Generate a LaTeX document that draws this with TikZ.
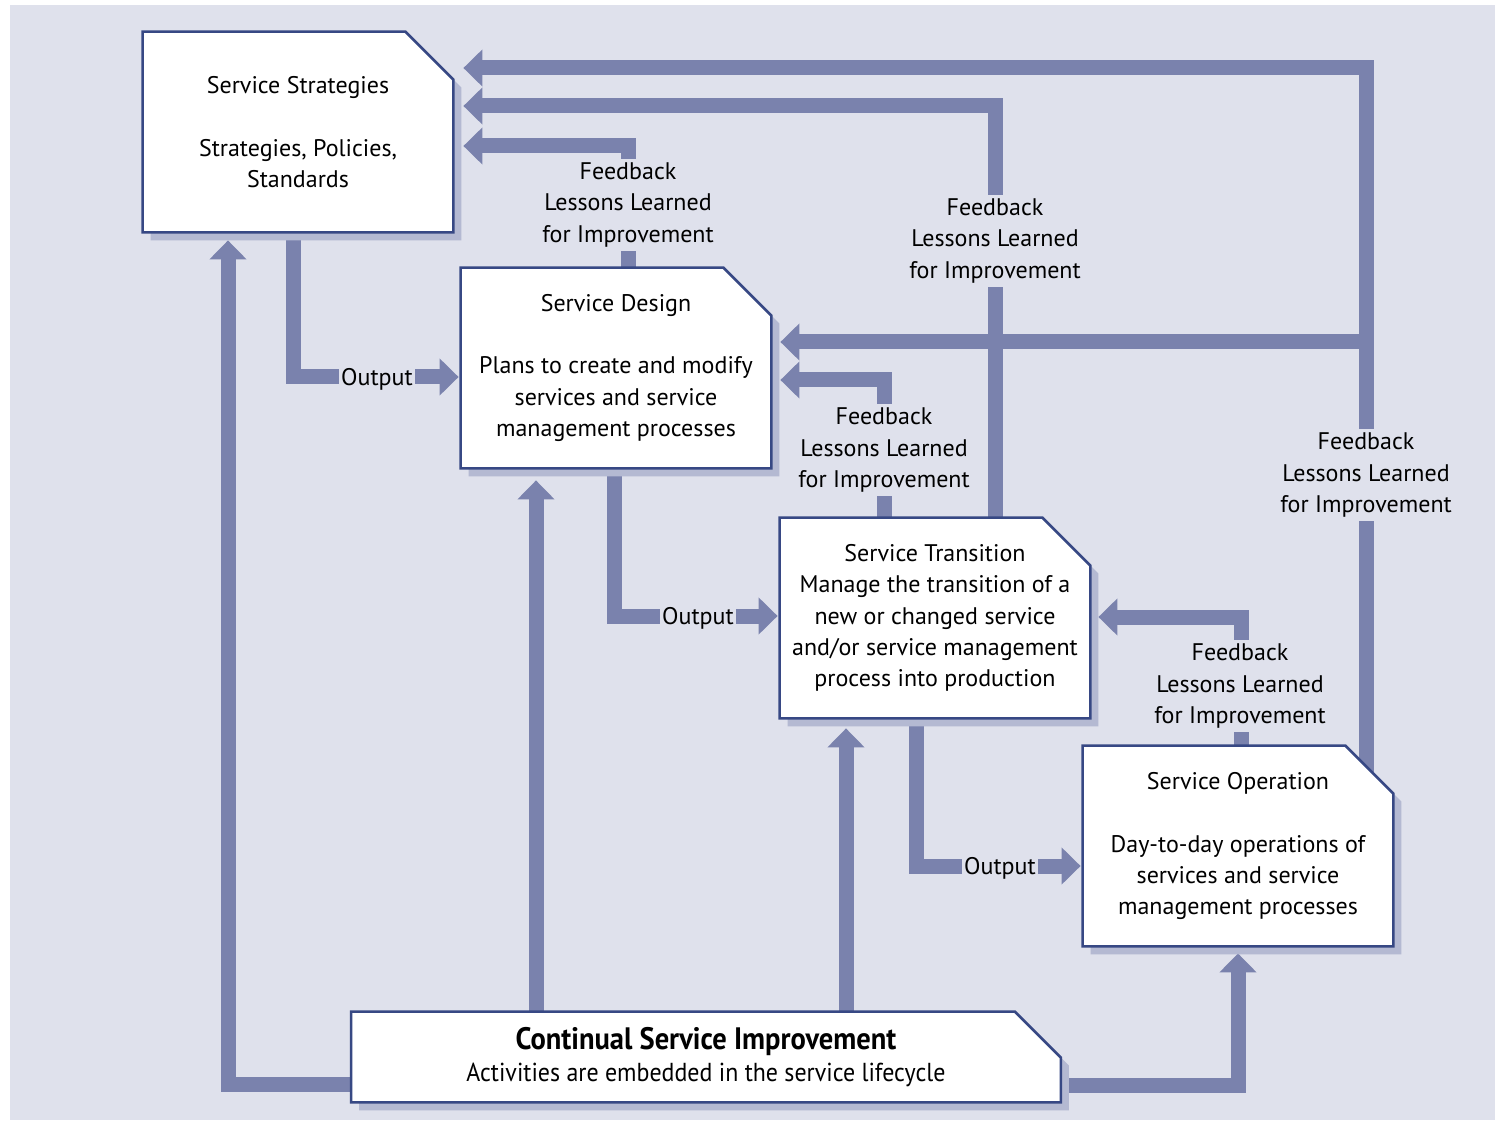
\documentclass[tikz,border=0pt]{standalone}
\usepackage{fontspec}
\setmainfont{PT Sans}
\newfontfamily\narrowfont[FakeStretch=0.92]{PT Sans}
\usetikzlibrary{arrows.meta}
\definecolor{lavande}{RGB}{223,225,236}
\definecolor{bande}{RGB}{122,130,173}
\definecolor{bord}{RGB}{55,72,132}
\definecolor{ombre}{RGB}{180,185,210}
\pgfdeclarelayer{fondplan}
\pgfdeclarelayer{bandes}
\pgfdeclarelayer{cadres}
\pgfsetlayers{fondplan,bandes,cadres,main}
% outline of a box with its top right corner cut off
\newcommand\cadre[3]{([xshift=#3,yshift=-#3]#1.south west) -- ([xshift=#3,yshift=-#3]#1.north west)
  -- ([xshift=#3-#2,yshift=-#3]#1.north east) -- ([xshift=#3,yshift=-#3-#2]#1.north east)
  -- ([xshift=#3,yshift=-#3]#1.south east) -- cycle}
\begin{document}
\begin{tikzpicture}[x=0.5pt,y=-0.5pt,
  box/.style={rectangle, inner sep=0pt, minimum width=155pt, minimum height=100pt,
    align=center, font=\fontsize{12}{15.7}\selectfont},
  flow/.style={draw=bande, line width=7.5pt, -{Triangle[width=18pt,length=9.5pt]}},
  lbl/.style={fill=lavande, inner xsep=1pt, inner ysep=2pt, align=center,
    font=\fontsize{12}{15.7}\selectfont}]
\useasboundingbox (0,0) rectangle (1495,1123);
\begin{pgfonlayer}{fondplan}
\fill[lavande] (10,5) rectangle (1495,1120);
\end{pgfonlayer}

% the five stages
\node[box] (ss) at (298,132) {Service Strategies\\[15.7pt]Strategies, Policies,\\Standards};
\node[box] (sd) at (616,368) {Service Design\\[15.7pt]Plans to create and modify\\services and service\\management processes};
\node[box] (st) at (935,618) {Service Transition\\Manage the transition of a\\new or changed service\\and/or service management\\process into production};
\node[box] (so) at (1238,846) {Service Operation\\[15.7pt]Day-to-day operations of\\services and service\\management processes};
\node[box, minimum width=354.5pt, minimum height=45pt, font=\narrowfont\fontsize{13}{16}\selectfont] (csi) at (706,1057)
  {{\bfseries\fontsize{15.5}{16}\selectfont Continual Service Improvement}\\Activities are embedded in the service lifecycle};

\begin{pgfonlayer}{cadres}
\foreach \n/\c in {ss/24pt,sd/24pt,st/24pt,so/24pt,csi/23pt} {
  \fill[ombre] \cadre{\n}{\c}{4pt};
  \draw[bord, line width=1.3pt, fill=white] \cadre{\n}{\c}{0pt};
}
\end{pgfonlayer}

% bends of the bands
\coordinate (fbA) at (1366,68);
\coordinate (fbAm) at (1366,342);
\coordinate (fbB) at (995,106);
\coordinate (fbC) at (628,146);
\coordinate (fbD) at (884,380);
\coordinate (fbE) at (1241,617);
\coordinate (outA) at (293,377);
\coordinate (outB) at (614,616);
\coordinate (outC) at (916,866);
\coordinate (csiL) at (228,1084);
\coordinate (csiR) at (1238,1085);
\coordinate (colD) at (536,1012);
\coordinate (colT) at (846,1012);

\begin{pgfonlayer}{bandes}
\draw[flow, shorten >=5pt] (fbA |- so.east) |- (ss.east |- fbA);
\draw[flow, shorten >=4.5pt] (fbAm) -- (sd.east |- fbAm);
\draw[flow, shorten >=5pt] (fbB |- st.north) |- (ss.east |- fbB);
\draw[flow, shorten >=5pt] (fbC |- sd.north) |- (ss.east |- fbC);
\draw[flow, shorten >=4.5pt] (fbD |- st.north) |- (sd.east |- fbD);
\draw[flow, shorten >=4pt] (fbE |- so.north) |- (st.east |- fbE);
\draw[flow, shorten >=1pt] (outA |- ss.south) |- (sd.west |- outA);
\draw[flow, shorten >=1pt] (outB |- sd.south) |- (st.west |- outB);
\draw[flow, shorten >=1pt] (outC |- st.south) |- (so.west |- outC);
\draw[flow, shorten >=4pt] (csi.west |- csiL) -| (ss.south -| csiL);
\draw[flow, shorten >=6pt] (colD |- csi.north) -- (colD |- sd.south);
\draw[flow, shorten >=5pt] (colT |- csi.north) -- (colT |- st.south);
\draw[flow, shorten >=3.5pt] (csi.east |- csiR) -| (so.south -| csiR);
\end{pgfonlayer}

% labels on the bands
\node[lbl] (lfA) at (1366,475) {Feedback\\Lessons Learned\\for Improvement};
\node[lbl] (lfB) at (995,241) {Feedback\\Lessons Learned\\for Improvement};
\node[lbl] (lfC) at (628,205) {Feedback\\Lessons Learned\\for Improvement};
\node[lbl] (lfD) at (884,450) {Feedback\\Lessons Learned\\for Improvement};
\node[lbl] (lfE) at (1240,686) {Feedback\\Lessons Learned\\for Improvement};
\node[lbl] (loA) at (377,379) {Output};
\node[lbl] (loB) at (698,618) {Output};
\node[lbl] (loC) at (1000,868) {Output};
\end{tikzpicture}
\end{document}
